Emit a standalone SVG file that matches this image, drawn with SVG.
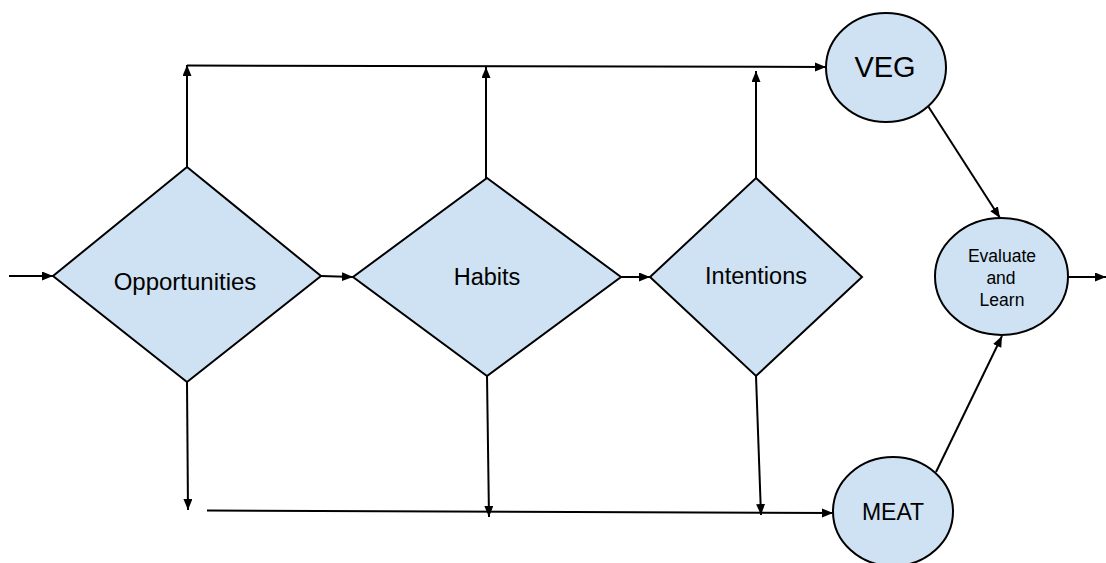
<svg xmlns="http://www.w3.org/2000/svg" width="1106" height="563" viewBox="0 0 1106 563">
  <defs>
    <marker id="arrow" markerUnits="userSpaceOnUse" markerWidth="12" markerHeight="10" refX="11" refY="4.5" orient="auto">
      <path d="M0,0 L11,4.5 L0,9 Z" fill="#000"/>
    </marker>
    <style>
      .shape { fill: #cfe2f3; stroke: #000; stroke-width: 2; }
      .link { fill: none; stroke: #000; stroke-width: 2; marker-end: url(#arrow); }
      .plain { fill: none; stroke: #000; stroke-width: 2; }
      .label { font-family: "Liberation Sans", Arial, sans-serif; fill: #000; text-anchor: middle; }
    </style>
  </defs>
  <rect width="1106" height="563" fill="#fff"/>

  <!-- connectors -->
  <g id="connectors">
    <line class="link" x1="9" y1="276" x2="53" y2="276"/>
    <line class="link" x1="321" y1="276" x2="353" y2="277"/>
    <line class="link" x1="621" y1="277" x2="650" y2="277"/>
    <!-- upper rail to VEG -->
    <line class="link" x1="187" y1="167" x2="187" y2="65"/>
    <line class="link" x1="486" y1="178" x2="486" y2="67"/>
    <line class="link" x1="756" y1="178" x2="756" y2="71"/>
    <line class="link" x1="187" y1="65.5" x2="826" y2="67"/>
    <!-- lower rail to MEAT -->
    <line class="link" x1="187" y1="382" x2="188" y2="510"/>
    <line class="link" x1="487" y1="376" x2="489" y2="517"/>
    <line class="link" x1="756" y1="376" x2="761" y2="515"/>
    <line class="link" x1="207" y1="510.5" x2="833" y2="513"/>
    <!-- into and out of Evaluate and Learn -->
    <line class="link" x1="928" y1="106" x2="1000" y2="218"/>
    <line class="link" x1="936" y1="472" x2="1002" y2="336"/>
    <line class="link" x1="1068" y1="277" x2="1106" y2="277"/>
  </g>

  <g id="opportunities">
    <polygon class="shape" points="187,167 321,276 187,382 53,276"/>
    <text class="label" x="185" y="290" font-size="24">Opportunities</text>
  </g>

  <g id="habits">
    <polygon class="shape" points="487,178 621,277 487,376 353,277"/>
    <text class="label" x="487" y="285" font-size="23.5">Habits</text>
  </g>

  <g id="intentions">
    <polygon class="shape" points="756,178 862,277 756,376 650,277"/>
    <text class="label" x="756" y="284" font-size="23.5">Intentions</text>
  </g>

  <g id="veg">
    <ellipse class="shape" cx="886" cy="67.5" rx="60" ry="54.5"/>
    <text class="label" x="885" y="77" font-size="29">VEG</text>
  </g>

  <g id="meat">
    <ellipse class="shape" cx="893" cy="511.5" rx="60" ry="54.5"/>
    <text class="label" x="893" y="520" font-size="23">MEAT</text>
  </g>

  <g id="evaluate-and-learn">
    <ellipse class="shape" cx="1001.5" cy="276.5" rx="66.5" ry="58.5"/>
    <text class="label" x="1002" y="262" font-size="17.5">Evaluate</text>
    <text class="label" x="1001" y="284" font-size="17.5">and</text>
    <text class="label" x="1002" y="306" font-size="17.5">Learn</text>
  </g>
</svg>
